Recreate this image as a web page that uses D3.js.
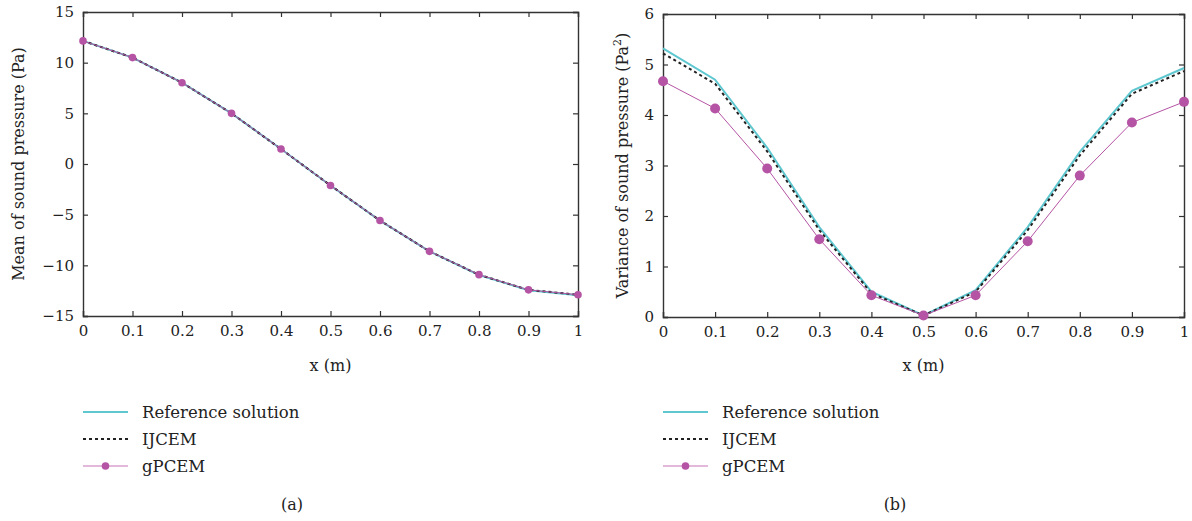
<!DOCTYPE html>
<html>
<head>
<meta charset="utf-8">
<script src="https://cdn.jsdelivr.net/npm/d3@7"></script>
<style>
  body { margin: 0; background: #fff; }
  svg text { font-family: "DejaVu Serif", "Liberation Serif", serif; fill: #222; }
</style>
</head>
<body>
<svg id="chart" width="1192" height="521"></svg>
<script>
const xs = [0, 0.1, 0.2, 0.3, 0.4, 0.5, 0.6, 0.7, 0.8, 0.9, 1];

// (a) mean of sound pressure
const meanRef   = [12.15, 10.5, 8.02, 5.0, 1.48, -2.12, -5.58, -8.62, -10.95, -12.45, -12.95];
const meanIJ    = [12.15, 10.5, 8.02, 5.0, 1.48, -2.12, -5.58, -8.62, -10.93, -12.42, -12.9];
const meanGPC   = [12.15, 10.5, 8.02, 5.0, 1.48, -2.12, -5.58, -8.62, -10.92, -12.42, -12.9];

// (b) variance of sound pressure
const varRef    = [5.32, 4.70, 3.35, 1.78, 0.50, 0.03, 0.53, 1.78, 3.27, 4.48, 4.93];
const varIJ     = [5.22, 4.62, 3.28, 1.72, 0.47, 0.03, 0.50, 1.72, 3.20, 4.42, 4.87];
const varGPC    = [4.67, 4.13, 2.94, 1.54, 0.43, 0.03, 0.43, 1.50, 2.80, 3.85, 4.26];

const xTicks = [0, 0.1, 0.2, 0.3, 0.4, 0.5, 0.6, 0.7, 0.8, 0.9, 1];
const meanTicks = [15, 10, 5, 0, -5, -10, -15];
const varTicks = [0, 1, 2, 3, 4, 5, 6];

const legendNames = ["Reference solution", "IJCEM", "gPCEM"];
const captions = ["(a)", "(b)"];

const cyan = "#5ec7d0";
const pink = "#b554a4";
const axisColor = "#333";

const svg = d3.select("#chart");
const fmt = d => d === 0 ? "0" : (d < 0 ? "\u2212" + Math.abs(d) : String(d));

function drawPanel(opt) {
  const x = d3.scaleLinear().domain([0, 1]).range([opt.left, opt.right]);
  const y = d3.scaleLinear().domain(opt.yDomain).range([opt.bottom, opt.top]);
  const g = svg.append("g");

  // box with inward ticks
  const tl = 5;
  g.append("g")
    .attr("transform", `translate(0,${opt.bottom})`)
    .call(d3.axisBottom(x).tickValues(xTicks).tickSize(-tl).tickPadding(9).tickFormat(d => d3.format("~g")(d)))
    .call(a => a.selectAll("text").style("font-size", "15px"));
  g.append("g")
    .attr("transform", `translate(0,${opt.top})`)
    .call(d3.axisTop(x).tickValues(xTicks).tickSize(-tl).tickFormat(""));
  g.append("g")
    .attr("transform", `translate(${opt.left},0)`)
    .call(d3.axisLeft(y).tickValues(opt.yTicks).tickSize(-tl).tickPadding(9).tickFormat(fmt))
    .call(a => a.selectAll("text").style("font-size", "15px"));
  g.append("g")
    .attr("transform", `translate(${opt.right},0)`)
    .call(d3.axisRight(y).tickValues(opt.yTicks).tickSize(-tl).tickFormat(""));
  g.selectAll(".domain").attr("stroke", axisColor).attr("stroke-width", 1.4);
  g.selectAll(".tick line").attr("stroke", axisColor).attr("stroke-width", 1.2);

  const line = d3.line().x((d, i) => x(xs[i])).y(d => y(d));

  g.append("path").datum(opt.ref).attr("d", line)
    .attr("fill", "none").attr("stroke", cyan).attr("stroke-width", 2);
  g.append("path").datum(opt.ij).attr("d", line)
    .attr("fill", "none").attr("stroke", "#222").attr("stroke-width", 2)
    .attr("stroke-dasharray", "3,3");
  g.append("path").datum(opt.gpc).attr("d", line)
    .attr("fill", "none").attr("stroke", pink).attr("stroke-width", 1);
  g.selectAll(".dot").data(opt.gpc).enter().append("circle")
    .attr("cx", (d, i) => x(xs[i])).attr("cy", d => y(d))
    .attr("r", opt.r).attr("fill", pink);

  // axis titles
  g.append("text")
    .attr("x", (opt.left + opt.right) / 2).attr("y", 371)
    .attr("text-anchor", "middle").style("font-size", "16px")
    .text("x (m)");
  const yt = g.append("text")
    .attr("transform", `translate(${opt.titleX},${(opt.top + opt.bottom) / 2}) rotate(-90)`)
    .attr("text-anchor", "middle").style("font-size", "16px");
  yt.append("tspan").text(opt.yTitle);
  if (opt.sup) {
    yt.append("tspan").attr("dy", -7).style("font-size", "11px").text(opt.sup);
    yt.append("tspan").attr("dy", 7).text(")");
  }

  // legend
  const lg = g.append("g").attr("transform", `translate(${opt.left},0)`);
  const ly = [412, 439, 466];
  lg.append("line").attr("x1", 0).attr("x2", 45).attr("y1", ly[0]).attr("y2", ly[0])
    .attr("stroke", cyan).attr("stroke-width", 2);
  lg.append("line").attr("x1", 0).attr("x2", 45).attr("y1", ly[1]).attr("y2", ly[1])
    .attr("stroke", "#222").attr("stroke-width", 2).attr("stroke-dasharray", "3,3");
  lg.append("line").attr("x1", 0).attr("x2", 45).attr("y1", ly[2]).attr("y2", ly[2])
    .attr("stroke", "#d9a0cf").attr("stroke-width", 1.6);
  lg.append("circle").attr("cx", 22.5).attr("cy", ly[2]).attr("r", 3.8).attr("fill", pink);
  lg.selectAll(".lt").data(legendNames).enter().append("text")
    .attr("x", 59).attr("y", (d, i) => ly[i] + 6)
    .style("font-size", "16.5px").text(d => d);

  g.append("text")
    .attr("x", opt.capX).attr("y", 510)
    .attr("text-anchor", "middle").style("font-size", "16px")
    .text(opt.caption);
}

drawPanel({
  left: 83, right: 578, top: 12, bottom: 316,
  yDomain: [-15, 15], yTicks: meanTicks,
  ref: meanRef, ij: meanIJ, gpc: meanGPC, r: 3.8,
  titleX: 24, yTitle: "Mean of sound pressure (Pa)",
  caption: captions[0], capX: 292
});

drawPanel({
  left: 663, right: 1184, top: 14, bottom: 317,
  yDomain: [0, 6], yTicks: varTicks,
  ref: varRef, ij: varIJ, gpc: varGPC, r: 5,
  titleX: 628, yTitle: "Variance of sound pressure (Pa", sup: "2",
  caption: captions[1], capX: 895
});
</script>
</body>
</html>
